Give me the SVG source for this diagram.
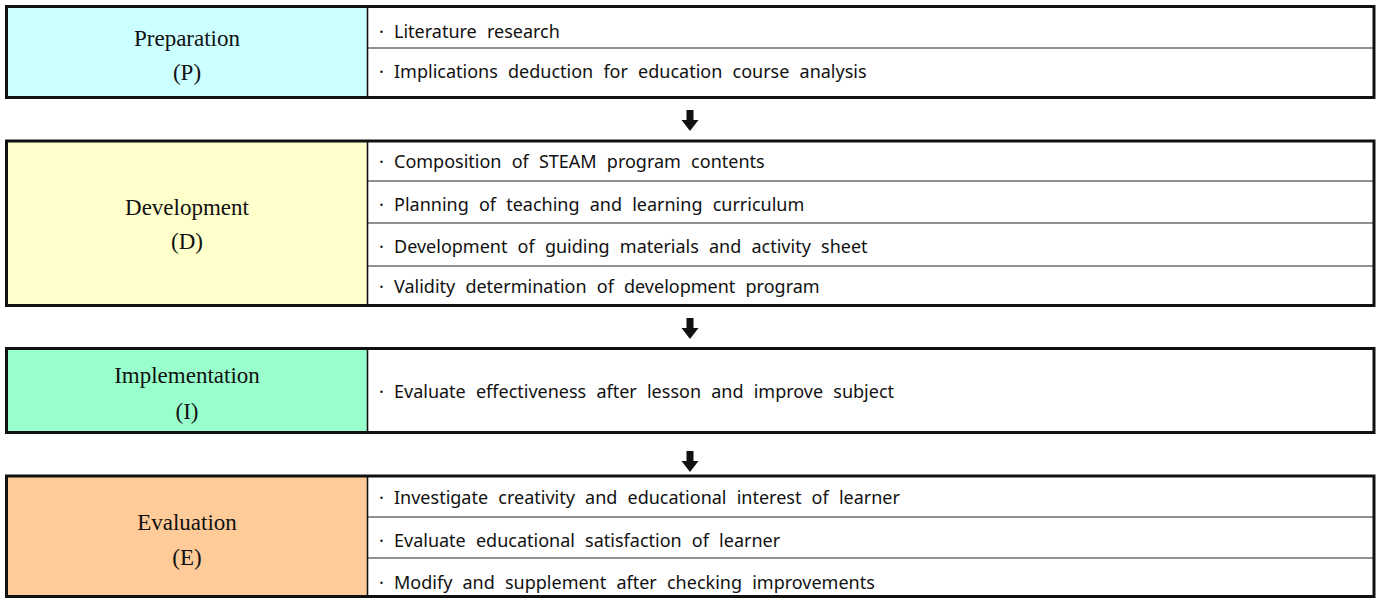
<svg xmlns="http://www.w3.org/2000/svg" width="1379" height="600" viewBox="0 0 1379 600">
<style>
.frame{fill:none;stroke:#111;stroke-width:3;}
.div{stroke:#111;stroke-width:1.6;}
.row{stroke:#222;stroke-width:1.2;}
.lbl{font-family:"Liberation Serif","Times New Roman",serif;font-size:23px;fill:#111;text-anchor:middle;}
.item{font-family:"Noto Sans","Noto Sans CJK KR",sans-serif;font-size:18px;fill:#111;word-spacing:5.5px;}
.arr{fill:#111;}
</style>
<defs>
<path id="arrow" d="M-3.5,0 H3.5 V10 H8.5 L0,21 L-8.5,10 H-3.5 Z"/>
</defs>
<rect width="1379" height="600" fill="#fff"/>
<g id="preparation">
<rect x="6.5" y="6.5" width="361" height="91" fill="#CCFFFF"/>
<rect x="367.5" y="6.5" width="1006.5" height="91" fill="#fff"/>
<line class="row" x1="367.5" y1="48" x2="1374" y2="48"/>
<line class="div" x1="367.5" y1="6.5" x2="367.5" y2="97.5"/>
<rect class="frame" x="6.5" y="6.5" width="1367.5" height="91"/>
<text class="lbl" x="187" y="46">Preparation</text>
<text class="lbl" x="187" y="80">(P)</text>
<text class="item" x="379" y="38">· Literature  research</text>
<text class="item" x="379" y="78">· Implications  deduction  for  education  course  analysis</text>
</g>
<g id="development">
<rect x="6.5" y="141" width="361" height="164.5" fill="#FFFFCC"/>
<rect x="367.5" y="141" width="1006.5" height="164.5" fill="#fff"/>
<line class="row" x1="367.5" y1="181" x2="1374" y2="181"/>
<line class="row" x1="367.5" y1="223" x2="1374" y2="223"/>
<line class="row" x1="367.5" y1="266" x2="1374" y2="266"/>
<line class="div" x1="367.5" y1="141" x2="367.5" y2="305.5"/>
<rect class="frame" x="6.5" y="141" width="1367.5" height="164.5"/>
<text class="lbl" x="187" y="215">Development</text>
<text class="lbl" x="187" y="249">(D)</text>
<text class="item" x="379" y="168">· Composition  of  STEAM  program  contents</text>
<text class="item" x="379" y="211">· Planning  of  teaching  and  learning  curriculum</text>
<text class="item" x="379" y="253">· Development  of  guiding  materials  and  activity  sheet</text>
<text class="item" x="379" y="293">· Validity  determination  of  development  program</text>
</g>
<g id="implementation">
<rect x="6.5" y="348.5" width="361" height="84" fill="#99FFCC"/>
<rect x="367.5" y="348.5" width="1006.5" height="84" fill="#fff"/>
<line class="div" x1="367.5" y1="348.5" x2="367.5" y2="432.5"/>
<rect class="frame" x="6.5" y="348.5" width="1367.5" height="84"/>
<text class="lbl" x="187" y="383">Implementation</text>
<text class="lbl" x="187" y="419">(I)</text>
<text class="item" x="379" y="398">· Evaluate  effectiveness  after  lesson  and  improve  subject</text>
</g>
<g id="evaluation">
<rect x="6.5" y="476" width="361" height="120.5" fill="#FFCC99"/>
<rect x="367.5" y="476" width="1006.5" height="120.5" fill="#fff"/>
<line class="row" x1="367.5" y1="517" x2="1374" y2="517"/>
<line class="row" x1="367.5" y1="558" x2="1374" y2="558"/>
<line class="div" x1="367.5" y1="476" x2="367.5" y2="596.5"/>
<rect class="frame" x="6.5" y="476" width="1367.5" height="120.5"/>
<text class="lbl" x="187" y="530">Evaluation</text>
<text class="lbl" x="187" y="565">(E)</text>
<text class="item" x="379" y="504">· Investigate  creativity  and  educational  interest  of  learner</text>
<text class="item" x="379" y="547">· Evaluate  educational  satisfaction  of  learner</text>
<text class="item" x="379" y="589">· Modify  and  supplement  after  checking  improvements</text>
</g>
<g id="connectors">
<use href="#arrow" class="arr" x="690" y="110"/>
<use href="#arrow" class="arr" x="690" y="318"/>
<use href="#arrow" class="arr" x="690" y="451"/>
</g>
</svg>
